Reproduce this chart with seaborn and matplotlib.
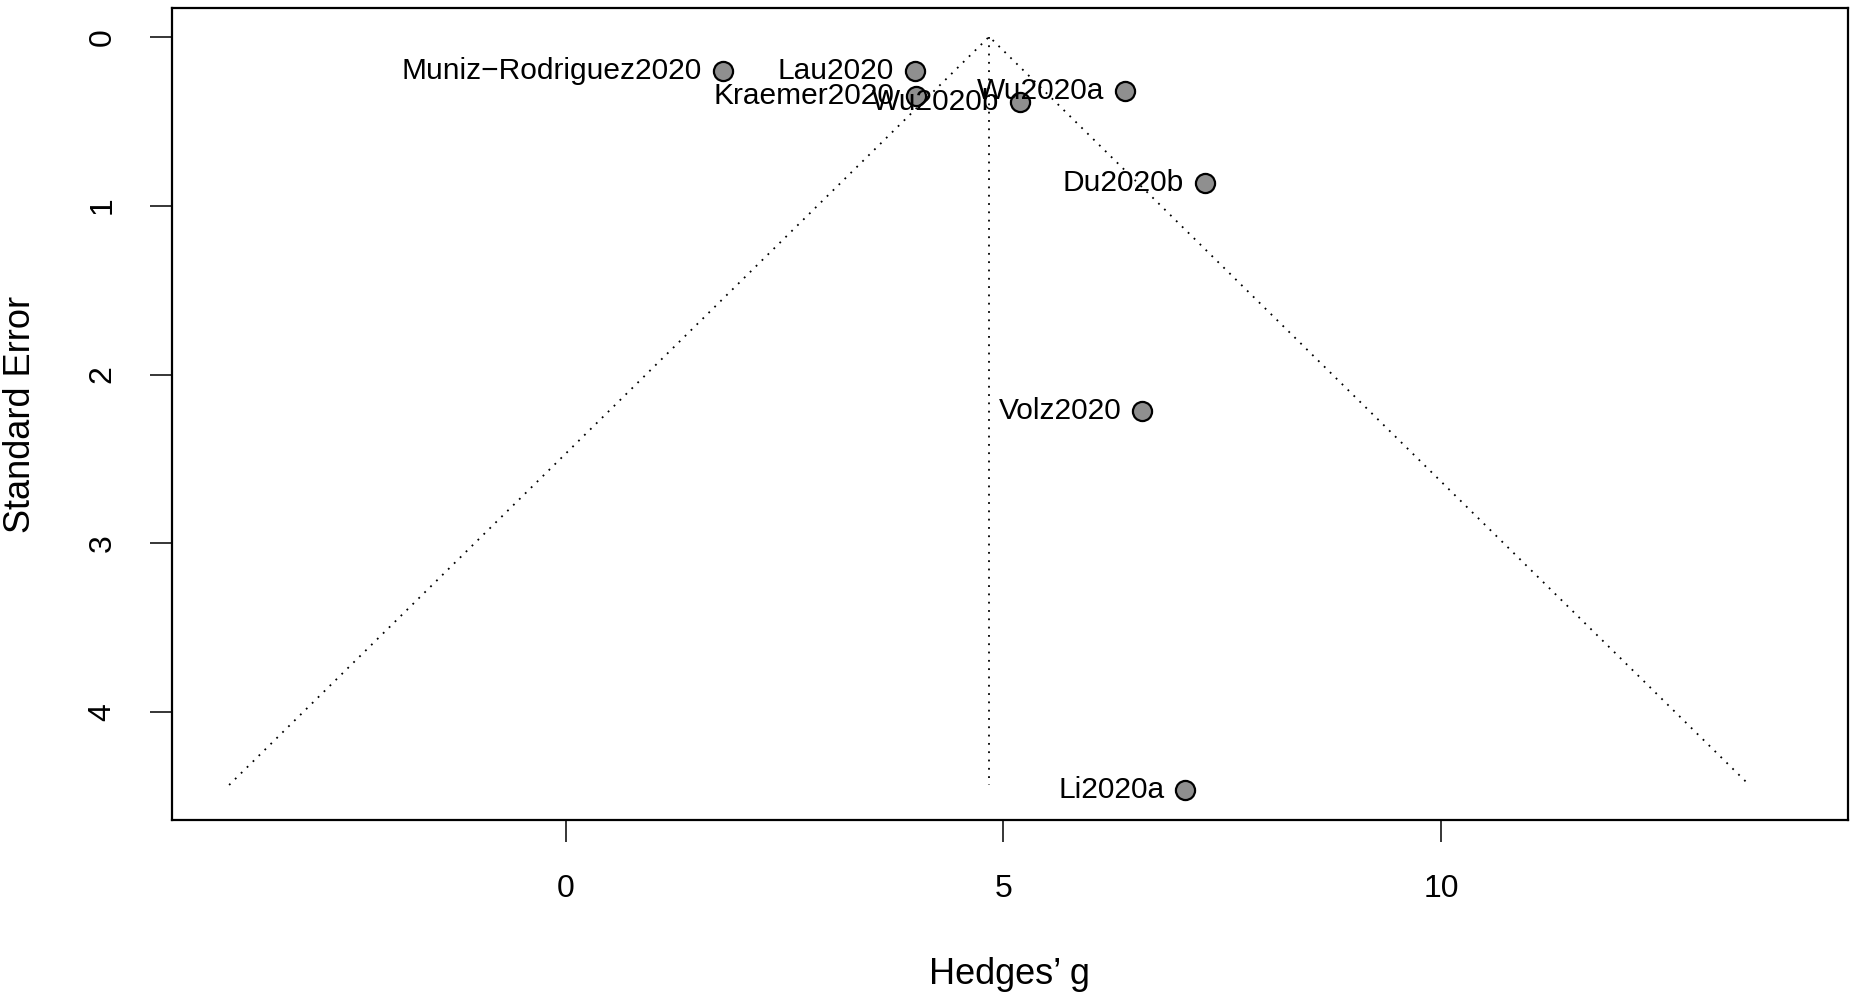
import pandas as pd
import matplotlib
matplotlib.use("Agg")
import matplotlib.pyplot as plt
import seaborn as sns

# Study estimates
studies = ["Muniz\u2212Rodriguez2020", "Lau2020", "Kraemer2020", "Wu2020b",
           "Wu2020a", "Du2020b", "Volz2020", "Li2020a"]
hedges_g = [1.80, 3.99, 4.00, 5.19, 6.39, 7.30, 6.59, 7.08]
std_err = [0.203, 0.203, 0.350, 0.385, 0.322, 0.869, 2.214, 4.462]

# Pooled estimate and funnel extent
pooled = 4.84
funnel_se = [0.0, 4.43]

x_ticks = [0, 5, 10]
y_ticks = [0, 1, 2, 3, 4]

sns.set_theme(style="white")
plt.rcParams['font.family'] = ['Liberation Sans', 'DejaVu Sans']

df = pd.DataFrame({'study': studies, 'g': hedges_g, 'se': std_err})

fig = plt.figure(figsize=(18.55, 9.98), dpi=100)
ax = fig.add_axes([0.0925, 0.1784, 0.9037, 0.8133])

# funnel lines (pooled +/- 1.96 * se) and the vertical pooled line
dots = (0, (1, 3.6))
lw = 1.3
ax.plot([pooled - 1.96 * funnel_se[1], pooled, pooled + 1.96 * funnel_se[1]],
        [funnel_se[1], funnel_se[0], funnel_se[1]],
        color='black', lw=lw, linestyle=dots)
ax.plot([pooled, pooled], funnel_se, color='black', lw=lw, linestyle=dots)

sns.scatterplot(data=df, x='g', y='se', ax=ax, s=190, color='#8f8f8f',
                edgecolor='black', linewidth=1.6, zorder=3, legend=False)

for _, row in df.iterrows():
    ax.annotate(row['study'], (row['g'], row['se']), xytext=(-15, 0),
                textcoords='offset points', ha='right', va='center',
                fontsize=21.5, color='black')

ax.set_xlim(-4.5, 14.65)
ax.set_ylim(4.637, -0.168)
ax.set_xticks(x_ticks)
ax.set_yticks(y_ticks)
ax.tick_params(axis='both', direction='out', length=16, width=1.1,
               color='black', labelsize=23, pad=23, labelcolor='black',
               bottom=True, left=True)
for lab in ax.get_yticklabels():
    lab.set_rotation(90)
    lab.set_va('center')

for sp in ax.spines.values():
    sp.set_visible(True)
    sp.set_color('black')
    sp.set_linewidth(1.6)

ax.set_xlabel("Hedges\u2019 g", fontsize=26, color='black', va='center')
ax.set_ylabel("Standard Error", fontsize=26, color='black', va='center')
ax.xaxis.set_label_coords(0.5, -0.191)
ax.yaxis.set_label_coords(-0.0904, 0.5)
ax.grid(False)

fig.savefig("out.png", dpi=100)
